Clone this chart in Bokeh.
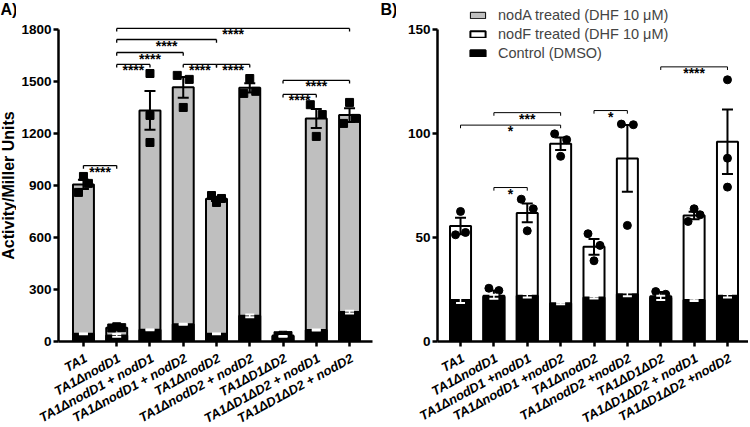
import math
from bokeh.plotting import figure
from bokeh.layouts import row, column
from bokeh.models import (ColumnDataSource, FixedTicker, Whisker, TeeHead,
                          Legend, LegendItem, Range1d)
from bokeh.core.properties import value
from bokeh.embed import file_html
from bokeh.resources import INLINE

# ---------------- data ----------------
strains_A = ["TA1", "TA1ΔnodD1", "TA1ΔnodD1 + nodD1", "TA1ΔnodD1 + nodD2", "TA1ΔnodD2",
             "TA1ΔnodD2 + nodD2", "TA1ΔD1ΔD2", "TA1ΔD1ΔD2 + nodD1", "TA1ΔD1ΔD2 + nodD2"]
strains_B = ["TA1", "TA1ΔnodD1", "TA1ΔnodD1 +nodD1", "TA1ΔnodD1 +nodD2", "TA1ΔnodD2",
             "TA1ΔnodD2 +nodD2", "TA1ΔD1ΔD2", "TA1ΔD1ΔD2 + nodD1", "TA1ΔD1ΔD2 +nodD2"]

nodA_mean = [906, 80, 1333, 1466, 823, 1463, 34, 1286, 1306]
nodA_sem = [27, 4, 112, 60, 12, 27, 2, 55, 40]
nodA_reps = [[860, 952, 912], [78, 85, 80], [1546, 1304, 1148], [1535, 1350, 1512],
             [842, 802, 825], [1431, 1517, 1443], [33, 36, 34], [1366, 1183, 1309],
             [1258, 1379, 1287]]
ctrlA_mean = [45, 35, 68, 100, 45, 148, 30, 66, 170]
ctrlA_sem = [3, 8, 3, 3, 3, 8, 2, 3, 8]

nodF_mean = [55.5, 22, 61.8, 95, 45.5, 88, 21.8, 60.6, 96]
nodF_sem = [4, 2.5, 4.5, 3, 3.8, 16, 2, 1.8, 15.5]
nodF_reps = [[51.3, 62.5, 52.4], [25.6, 16, 24.5], [68.4, 53.2, 63.8], [99.8, 89, 97],
             [51.8, 38.8, 46.2], [104.5, 55.8, 104.2], [24, 19.2, 22.7], [57.7, 63.8, 60.9],
             [74.2, 88.1, 125.8]]
ctrlB_mean = [20, 21.5, 22, 18.4, 21.2, 22.7, 21, 20, 22]
ctrlB_sem = [1.5, 1, 0.8, 0.5, 0.5, 1, 1, 0.5, 0.8]

# significance brackets: (from group, to group, height, label)
sig_A = [(1, 2, 1015, "****"), (2, 3, 1598, "****"), (2, 4, 1667, "****"),
         (2, 5, 1742, "****"), (2, 9, 1806, "****"), (4, 5, 1598, "****"),
         (5, 6, 1598, "****"), (7, 8, 1425, "****"), (7, 9, 1506, "****")]
sig_B = [(1, 4, 104, "*"), (2, 4, 110, "***"), (2, 3, 74, "*"), (5, 6, 111, "*"),
         (7, 9, 132, "****")]

yticks_A = [0, 300, 600, 900, 1200, 1500, 1800]
yticks_B = [0, 50, 100, 150]
y_title = "Activity/Miller Units"
panel_tags = ["A)", "B)"]
legend_labels = ["nodA treated (DHF 10 μM)", "nodF treated (DHF 10 μM)", "Control (DMSO)"]

# ------------- styles / layout (not data) -------------
JIT_A = [[-0.15, 0, 0.15], [-0.15, 0, 0.15], [0, 0, 0], [-0.18, 0, 0.18], [-0.15, 0, 0.15],
         [-0.18, 0, 0.18], [-0.15, 0, 0.15], [-0.18, 0, 0.18], [-0.18, 0, 0.18]]
JIT_B = [[-0.15, 0, 0.15], [-0.15, 0, 0.15], [-0.18, 0, 0.18], [-0.18, 0, 0.18],
         [-0.18, 0, 0.18], [-0.18, 0, 0.18], [-0.15, 0, 0.15], [-0.18, 0, 0.18], [0, 0, 0]]
GRAY = "#bfbfbf"
FONT = "Liberation Sans"
BAR_W = 0.63
LABEL_ANGLE = 0.5
MAIN_H = 349      # height of the plotting figures
LAB_H = 77        # height of the tick-label strips
STRIP_W = 16      # width of the left strips (panel tag + y title)
BOTTOM = 8        # bottom border of main figures (x-axis ticks)


def bare(width, height, xr, yr, bottom=0):
    f = figure(width=width, height=height, x_range=xr, y_range=yr,
               output_backend="svg", toolbar_location=None,
               x_axis_location=None, y_axis_location=None,
               min_border_left=0, min_border_right=0, min_border_top=0,
               min_border_bottom=bottom)
    f.grid.visible = False
    f.outline_line_color = None
    f.background_fill_color = "white"
    f.border_fill_color = "white"
    return f


def style(p, yticks, n):
    p.xgrid.visible = False
    p.ygrid.visible = False
    p.outline_line_color = None
    p.background_fill_color = "white"
    p.border_fill_color = "white"
    xs = list(range(1, n + 1))
    for ax in (p.xaxis[0], p.yaxis[0]):
        ax.axis_line_width = 2.5
        ax.major_tick_line_width = 2.5
        ax.major_tick_out = 5
        ax.major_tick_in = 0
        ax.minor_tick_line_color = None
        ax.major_label_text_font = FONT
        ax.major_label_text_font_style = "bold"
        ax.major_label_text_color = "black"
    p.xaxis[0].ticker = FixedTicker(ticks=xs)
    p.xaxis[0].major_label_text_font_size = "0px"
    p.xaxis[0].major_label_text_color = None
    p.xaxis[0].major_label_standoff = 0
    p.yaxis[0].ticker = FixedTicker(ticks=yticks)
    p.yaxis[0].bounds = (yticks[0], yticks[-1])
    p.yaxis[0].major_label_text_font_size = "13.5px"
    p.yaxis[0].major_label_standoff = 2


def panel(p, top_mean, top_sem, reps, jit, ctrl_mean, ctrl_sem, top_fill, marker, sig,
          tick_len, bracket_w):
    xs = list(range(1, len(top_mean) + 1))
    src = ColumnDataSource(dict(x=xs, top=top_mean,
                                lo=[m - s for m, s in zip(top_mean, top_sem)],
                                hi=[m + s for m, s in zip(top_mean, top_sem)]))
    csrc = ColumnDataSource(dict(x=xs, top=ctrl_mean,
                                 lo=[m - s for m, s in zip(ctrl_mean, ctrl_sem)],
                                 hi=[m + s for m, s in zip(ctrl_mean, ctrl_sem)]))
    r_top = p.vbar(x="x", top="top", bottom=0, width=BAR_W, source=src,
                   fill_color=top_fill, line_color="black", line_width=2)
    r_ctrl = p.vbar(x="x", top="top", bottom=0, width=BAR_W, source=csrc,
                    fill_color="black", line_color="black", line_width=2)
    px, py = [], []
    for i, (vals, offs) in enumerate(zip(reps, jit)):
        for v, o in zip(vals, offs):
            px.append(i + 1 + o)
            py.append(v)
    p.scatter(px, py, marker=marker, size=8, color="black")
    p.add_layout(Whisker(source=src, base="x", upper="hi", lower="lo", level="annotation",
                         line_color="black", line_width=2,
                         upper_head=TeeHead(size=11, line_width=2, line_color="black"),
                         lower_head=TeeHead(size=11, line_width=2, line_color="black")))
    p.add_layout(Whisker(source=csrc, base="x", upper="hi", lower="lo", level="annotation",
                         line_color="white", line_width=1.5,
                         upper_head=TeeHead(size=9, line_width=2, line_color="white"),
                         lower_head=TeeHead(size=9, line_width=2, line_color="white")))
    x0, x1, y0, y1 = [], [], [], []
    tx, ty, tt = [], [], []
    for a, b, h, lab in sig:
        x0 += [a, a, b]
        x1 += [b, a, b]
        y0 += [h, h, h]
        y1 += [h, h - tick_len, h - tick_len]
        tx.append((a + b) / 2)
        ty.append(h)
        tt.append(lab)
    p.segment(x0=x0, y0=y0, x1=x1, y1=y1, line_color="black", line_width=bracket_w)
    p.text(x=tx, y=ty, text=tt, text_align="center", text_baseline="alphabetic",
           y_offset=6, text_font=value(FONT), text_font_size="14px",
           text_font_style="bold", text_color="black")
    return r_top, r_ctrl


def label_strip(width, xr, frame_left, frame_right, labels):
    # strip below a main figure, whose x scale matches the main figure's frame
    pxu = (frame_right - frame_left) / (xr.end - xr.start)
    sxr = Range1d(xr.start - frame_left / pxu, xr.end + (width - frame_right) / pxu)
    s = bare(width, LAB_H, sxr, Range1d(0, 1))
    s.text(x=list(range(1, len(labels) + 1)), y=[1] * len(labels), text=labels,
           angle=LABEL_ANGLE, text_align="right", text_baseline="top",
           x_offset=-1, y_offset=1, text_font=value(FONT), text_font_size="13px",
           text_font_style="bold italic", text_color="black")
    return s


# ---------------- panel A ----------------
WA = 380
LEFT_A, RIGHT_A = 42, 8
xrA = Range1d(0.25, 9.69)
yrA = Range1d(0, 1967)
pA = figure(width=WA - STRIP_W, height=MAIN_H, x_range=xrA, y_range=yrA,
            output_backend="svg", toolbar_location=None,
            min_border_left=LEFT_A, min_border_right=RIGHT_A, min_border_top=0,
            min_border_bottom=BOTTOM)
style(pA, yticks_A, len(strains_A))
panel(pA, nodA_mean, nodA_sem, nodA_reps, JIT_A, ctrlA_mean, ctrlA_sem, GRAY, "square",
      sig_A, 18, 1.3)
sA = bare(STRIP_W, MAIN_H, Range1d(0, STRIP_W), yrA, BOTTOM)
sA.text(x=[0], y=[yrA.end], text=[panel_tags[0]], text_align="left", text_baseline="top",
        text_font=value(FONT), text_font_size="16px", text_font_style="bold",
        text_color="black")
sA.text(x=[STRIP_W / 2], y=[yticks_A[-1] / 2], text=[y_title], angle=math.pi / 2,
        text_align="center", text_baseline="middle", text_font=value(FONT),
        text_font_size="16px", text_font_style="bold", text_color="black")
lA = label_strip(WA, xrA, STRIP_W + LEFT_A, WA - RIGHT_A, strains_A)
colA = column(row(sA, pA), lA)

# ---------------- panel B ----------------
WB = 368
LEFT_B = 41
xrB = Range1d(0.31, 9.63)
yrB = Range1d(0, 163.9)
pB = figure(width=WB - STRIP_W, height=MAIN_H, x_range=xrB, y_range=yrB,
            output_backend="svg", toolbar_location=None,
            min_border_left=LEFT_B, min_border_right=0, min_border_top=0,
            min_border_bottom=BOTTOM)
style(pB, yticks_B, len(strains_B))
r_white, r_black = panel(pB, nodF_mean, nodF_sem, nodF_reps, JIT_B, ctrlB_mean, ctrlB_sem,
                         "white", "circle", sig_B, 1.5, 1)
r_gray = pB.vbar(x=list(range(1, len(nodF_mean) + 1)), top=nodF_mean, width=BAR_W,
                 fill_color=GRAY, line_color="black", line_width=1, visible=False)
legend = Legend(items=[LegendItem(label=legend_labels[0], renderers=[r_gray]),
                       LegendItem(label=legend_labels[1], renderers=[r_white]),
                       LegendItem(label=legend_labels[2], renderers=[r_black])],
                location=(31, 280), orientation="vertical", glyph_width=19, glyph_height=8,
                label_standoff=11, label_text_font=FONT, label_text_font_size="14.5px",
                spacing=2, label_height=17, padding=0, margin=0,
                inactive_fill_alpha=0,
                border_line_color=None, background_fill_alpha=0)
pB.add_layout(legend)
sB = bare(STRIP_W, MAIN_H, Range1d(0, STRIP_W), yrB, BOTTOM)
sB.text(x=[0], y=[yrB.end], text=[panel_tags[1]], text_align="left", text_baseline="top",
        text_font=value(FONT), text_font_size="16px", text_font_style="bold",
        text_color="black")
lB = label_strip(WB, xrB, STRIP_W + LEFT_B, WB, strains_B)
colB = column(row(sB, pB), lB)

layout = row(colA, colB)
open("out.html", "w").write(file_html(layout, INLINE))
